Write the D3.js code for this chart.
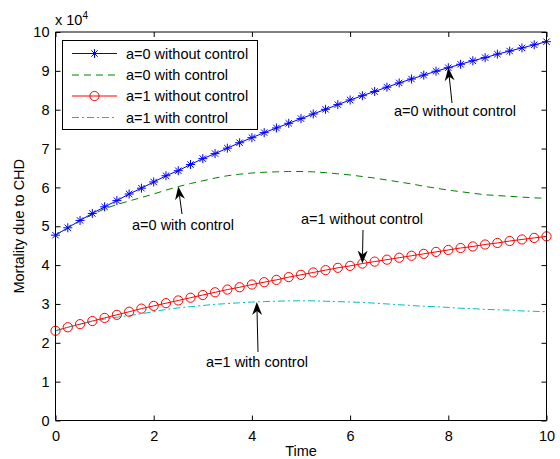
<!DOCTYPE html>
<html>
<head>
<meta charset="utf-8">
<script src="https://cdn.jsdelivr.net/npm/d3@7"></script>
<style>
  html, body { margin: 0; padding: 0; background: #fff; }
  svg text { font-family: "Liberation Sans", Arial, sans-serif; fill: #000; }
</style>
</head>
<body>
<svg id="chart" width="560" height="459"></svg>
<script>
// ---------- data ----------
const time = [0,0.25,0.5,0.75,1,1.25,1.5,1.75,2,2.25,2.5,2.75,3,3.25,3.5,3.75,4,4.25,4.5,4.75,5,
              5.25,5.5,5.75,6,6.25,6.5,6.75,7,7.25,7.5,7.75,8,8.25,8.5,8.75,9,9.25,9.5,9.75,10];
const a0NoControl = [47700,49600,51500,53300,55000,56600,58300,59800,61400,63000,64300,65900,67400,68700,70100,71500,72800,74100,75300,76500,77700,
                     78900,80100,81300,82500,83600,84700,85800,86900,87900,88900,89900,90800,91700,92600,93400,94300,95100,95900,96700,97500];
const a0Control   = [47700,49600,51400,53000,54500,55600,56500,57400,58300,59300,60200,61000,61700,62400,63000,63400,63700,63900,64000,64100,64100,
                     64000,63800,63500,63200,62800,62400,61900,61400,60900,60300,59800,59300,58900,58500,58100,57900,57700,57500,57300,57200];
const a1NoControl = [23100,24000,24800,25600,26400,27200,28000,28800,29500,30200,30900,31600,32300,33000,33700,34300,35000,35600,36200,36900,37500,
                     38100,38700,39300,39800,40400,40900,41400,41900,42400,42900,43400,43900,44400,44800,45300,45700,46200,46600,47000,47400];
const a1Control   = [23100,24000,24800,25500,26100,26600,27000,27500,28000,28600,29000,29300,29600,29900,30100,30300,30500,30600,30700,30800,30800,
                     30800,30700,30600,30500,30400,30200,30000,29800,29600,29400,29300,29100,28900,28800,28600,28500,28400,28200,28100,28000];
const seriesNames = ["a=0 without control","a=0 with control","a=1 without control","a=1 with control"];
const seriesColors = ["#0000ff","#008000","#ff0000","#00bfbf"];
const xTicks = [0,2,4,6,8,10];
const yTicks = [0,1,2,3,4,5,6,7,8,9,10];
const annotations = [
  {text:"a=0 without control", t:8.0,  v:90800, tx:455, ty:111, ax:452, ay:103},
  {text:"a=0 with control",    t:2.5,  v:60200, tx:183, ty:225, ax:182, ay:214},
  {text:"a=1 without control", t:6.25, v:40400, tx:362, ty:219, ax:363, ay:230},
  {text:"a=1 with control",    t:4.1,  v:30500, tx:257, ty:362, ax:258, ay:352}
];

// ---------- layout ----------
const svg = d3.select("#chart");
const FS = 14.5;
const L = 55.5, R = 546.5, T = 32, B = 420.5;
const x = d3.scaleLinear().domain([0,10]).range([L,R]);
const y = d3.scaleLinear().domain([0,100000]).range([B,T]);

const series = [a0NoControl, a0Control, a1NoControl, a1Control].map((vals,i)=>({
  name: seriesNames[i], color: seriesColors[i],
  points: time.map((t,j)=>({t, v: vals[j]}))
}));
const dashes = [null, "7,5", null, "7,3,2,3"];

const line = d3.line().x(d=>x(d.t)).y(d=>y(d.v));

// ---------- lines ----------
const plot = svg.append("g");
series.forEach((s,i)=>{
  plot.append("path").datum(s.points)
    .attr("d", line).attr("fill","none")
    .attr("stroke", s.color).attr("stroke-width",1)
    .attr("stroke-dasharray", dashes[i]);
});

function starPath(r){
  const d = r*Math.SQRT1_2;
  return `M${-r},0L${r},0M0,${-r}L0,${r}M${-d},${-d}L${d},${d}M${-d},${d}L${d},${-d}`;
}
// markers
plot.append("g").selectAll("path").data(series[0].points).join("path")
  .attr("transform", d=>`translate(${x(d.t)},${y(d.v)})`)
  .attr("d", starPath(4.5)).attr("stroke","#0000ff").attr("stroke-width",1).attr("fill","none");
plot.append("g").selectAll("circle").data(series[2].points).join("circle")
  .attr("cx", d=>x(d.t)).attr("cy", d=>y(d.v)).attr("r",4.6)
  .attr("stroke","#ff0000").attr("stroke-width",1).attr("fill","none");

// ---------- axes ----------
const fmt = d => d3.format("d")(d/10000);
const xAxisB = d3.axisBottom(x).tickValues(xTicks).tickSize(-5).tickPadding(10).tickFormat(d3.format("d"));
const xAxisT = d3.axisTop(x).tickValues(xTicks).tickSize(-5).tickFormat("");
const yAxisL = d3.axisLeft(y).tickValues(yTicks.map(v=>v*10000)).tickSize(-5).tickPadding(6).tickFormat(fmt);
const yAxisR = d3.axisRight(y).tickValues(yTicks.map(v=>v*10000)).tickSize(-5).tickFormat("");

function styleAxis(g){
  g.selectAll(".domain").attr("stroke","#000").attr("stroke-width",1);
  g.selectAll(".tick line").attr("stroke","#000").attr("stroke-width",1);
  g.selectAll("text").attr("font-size",FS).attr("font-family","Liberation Sans, Arial, sans-serif").attr("fill","#000");
}
svg.append("g").attr("transform",`translate(0,${B})`).call(xAxisB).call(styleAxis)
  .call(g=>g.select(".domain").attr("d",`M${L},0H${R}`));
svg.append("g").attr("transform",`translate(0,${T})`).call(xAxisT).call(styleAxis)
  .call(g=>g.select(".domain").attr("d",`M${L},0H${R}`));
svg.append("g").attr("transform",`translate(${L},0)`).call(yAxisL).call(styleAxis)
  .call(g=>g.select(".domain").attr("d",`M0,${T}V${B}`));
svg.append("g").attr("transform",`translate(${R},0)`).call(yAxisR).call(styleAxis)
  .call(g=>g.select(".domain").attr("d",`M0,${T}V${B}`));

// exponent label
const ex = svg.append("text").attr("x",55).attr("y",25).attr("font-size",FS);
ex.append("tspan").text("x 10");
ex.append("tspan").attr("dy",-6).attr("font-size",10).text("4");

// axis titles
svg.append("text").attr("x",(L+R)/2).attr("y",456).attr("text-anchor","middle")
  .attr("font-size",FS).text("Time");
svg.append("text").attr("transform",`translate(19,${(T+B)/2}) rotate(-90)`)
  .attr("text-anchor","middle").attr("dy","0.35em").attr("font-size",FS).text("Mortality due to CHD");

// ---------- annotations ----------
function arrow(x0,y0,x1,y1){
  const ang = Math.atan2(y1-y0, x1-x0);
  const len = 13, w = 5, back = 9;
  const ux = Math.cos(ang), uy = Math.sin(ang);
  const px = -uy, py = ux;
  const bx = x1 - ux*len, by = y1 - uy*len;
  const cx = x1 - ux*back, cy = y1 - uy*back;
  svg.append("line").attr("x1",x0).attr("y1",y0).attr("x2",cx).attr("y2",cy)
    .attr("stroke","#000").attr("stroke-width",1);
  svg.append("path")
    .attr("d",`M${x1},${y1}L${bx+px*w},${by+py*w}L${cx},${cy}L${bx-px*w},${by-py*w}Z`)
    .attr("fill","#000");
}
annotations.forEach(a=>{
  svg.append("text").attr("x",a.tx).attr("y",a.ty).attr("dy","0.35em")
    .attr("text-anchor","middle").attr("font-size",FS).text(a.text);
  arrow(a.ax, a.ay, x(a.t), y(a.v));
});

// ---------- legend ----------
const lg = svg.append("g");
lg.append("rect").attr("x",62.5).attr("y",40.5).attr("width",195).attr("height",89)
  .attr("fill","#fff").attr("stroke","#000").attr("stroke-width",1);
const rowsY = [53.5, 75, 96, 117.5];
series.forEach((s,i)=>{
  const yy = rowsY[i];
  lg.append("line").attr("x1",72).attr("x2",117).attr("y1",yy).attr("y2",yy)
    .attr("stroke",s.color).attr("stroke-width",1).attr("stroke-dasharray",dashes[i]);
  if(i===0) lg.append("path").attr("transform",`translate(94.5,${yy})`).attr("d",starPath(4.5))
    .attr("stroke",s.color).attr("fill","none");
  if(i===2) lg.append("circle").attr("cx",94.5).attr("cy",yy).attr("r",4.6)
    .attr("stroke",s.color).attr("fill","none");
  lg.append("text").attr("x",126).attr("y",yy).attr("dy","0.35em").attr("font-size",FS).text(s.name);
});
</script>
</body>
</html>
